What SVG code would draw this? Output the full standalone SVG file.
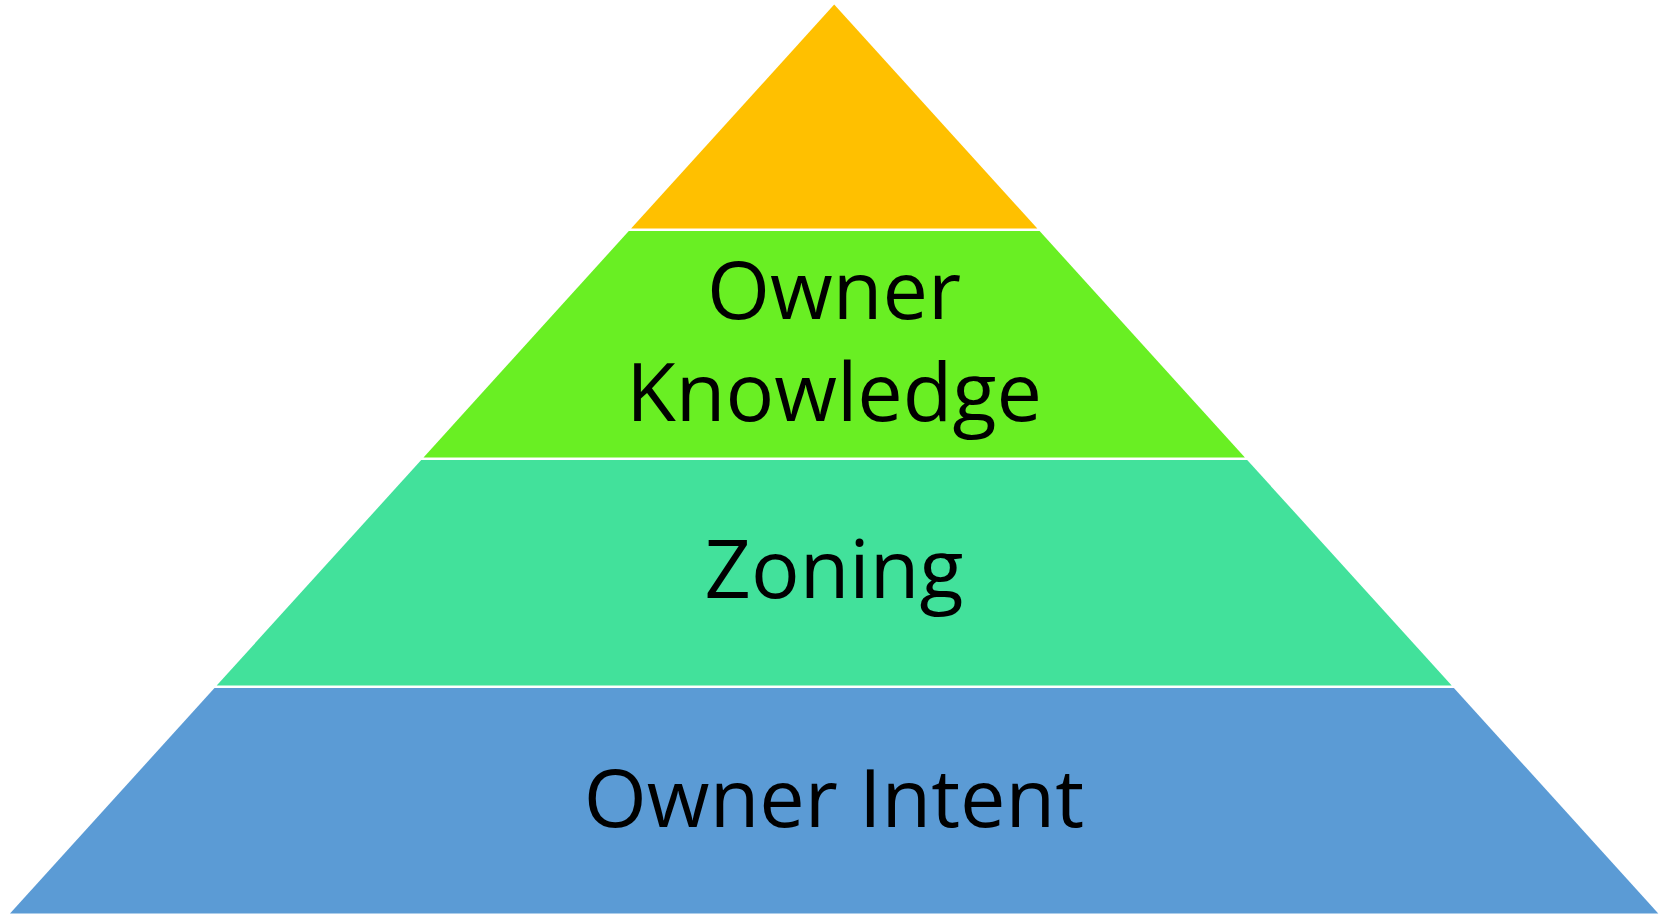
<svg xmlns="http://www.w3.org/2000/svg" width="1665" height="915" viewBox="0 0 1665 915">
  <style>
    .label { font-family: "Open Sans", "Liberation Sans", sans-serif; font-size: 81px; fill: #000000; text-anchor: middle; }
  </style>
  <rect x="0" y="0" width="1665" height="915" fill="#ffffff"/>

  <!-- Top tier: apex triangle -->
  <g id="tier-top">
    <polygon points="834.2,4.5 1037.3,228.5 631.1,228.5" fill="#FFC000"/>
  </g>

  <!-- Second tier -->
  <g id="tier-owner-knowledge">
    <polygon points="628.8,231 1039.6,231 1244.9,457.5 423.5,457.5" fill="#69EF23"/>
    <text class="label" x="834" y="318.5">Owner</text>
    <text class="label" x="834" y="421">Knowledge</text>
  </g>

  <!-- Third tier -->
  <g id="tier-zoning">
    <polygon points="421.2,460 1247.2,460 1451.7,685.5 216.7,685.5" fill="#42E19B"/>
    <text class="label" x="834" y="598">Zoning</text>
  </g>

  <!-- Base tier -->
  <g id="tier-owner-intent">
    <polygon points="214.5,688 1453.9,688 1658.3,913.5 10,913.5" fill="#5B9BD5"/>
    <text class="label" x="834" y="827">Owner Intent</text>
  </g>
</svg>
